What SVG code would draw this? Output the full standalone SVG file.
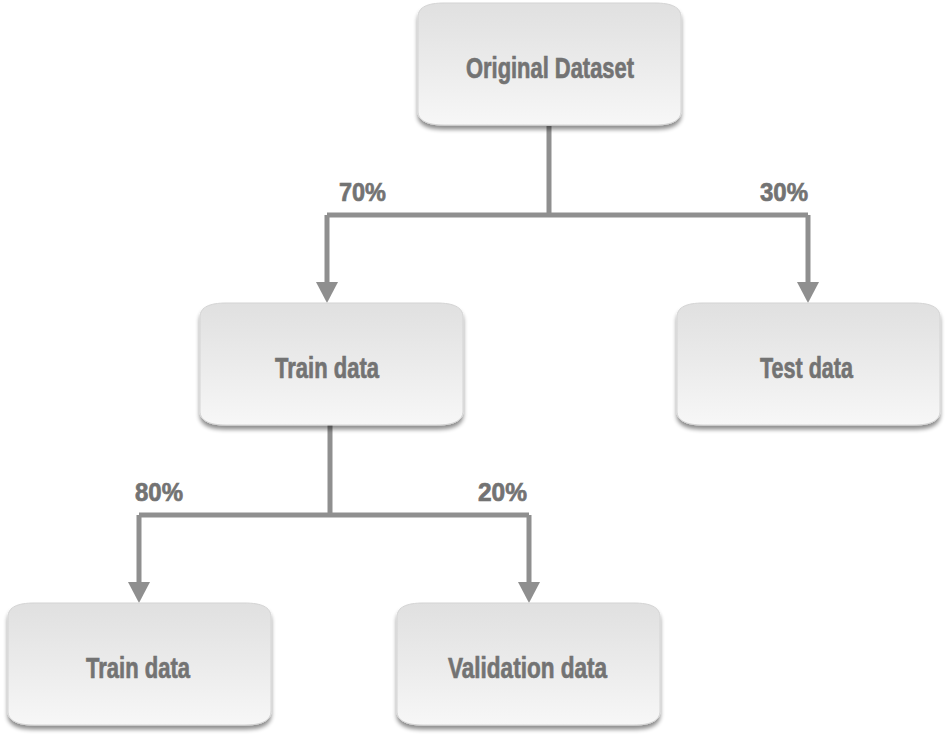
<svg xmlns="http://www.w3.org/2000/svg" xmlns:xlink="http://www.w3.org/1999/xlink" width="950" height="742" viewBox="0 0 950 742">
  <style>
    .lbl { font-family: "Liberation Sans Narrow", "Liberation Sans", Arial, sans-serif; font-weight: bold; fill: #737373; stroke: #737373; stroke-width: 0.7px; }
    .node { font-size: 30px; }
    .pct { font-size: 26px; }
    .wire { fill: none; stroke: #8f8f8f; stroke-width: 5; stroke-linecap: butt; stroke-linejoin: miter; }
    .box { fill: url(#boxGrad); stroke: #d4d4d4; stroke-width: 1; filter: url(#shadow); }
  </style>
  <defs>
    <linearGradient id="boxGrad" x1="0" y1="0" x2="0" y2="1">
      <stop offset="0" stop-color="#e0e0e0"/>
      <stop offset="0.5" stop-color="#ebebeb"/>
      <stop offset="1" stop-color="#f7f7f7"/>
    </linearGradient>
    <filter id="shadow" x="-10%" y="-10%" width="120%" height="130%">
      <feGaussianBlur in="SourceAlpha" stdDeviation="2"/>
      <feOffset dx="0" dy="4" result="b"/>
      <feComponentTransfer in="b" result="s">
        <feFuncA type="linear" slope="0.45"/>
      </feComponentTransfer>
      <feMerge>
        <feMergeNode in="s"/>
        <feMergeNode in="SourceGraphic"/>
      </feMerge>
    </filter>
    <path id="boxShape" d="M0,14 C0,4 10,0 26,0 L237,0 C253,0 263,4 263,14 L263,108 C263,118 253,122 237,122 L26,122 C10,122 0,118 0,108 Z"/>
    <marker id="arrow" markerUnits="userSpaceOnUse" markerWidth="21" markerHeight="22" refX="0" refY="11" orient="auto" viewBox="0 0 21 22">
      <polygon points="0,0 21,11 0,22" fill="#8f8f8f"/>
    </marker>
  </defs>

  <g id="connectors">
    <path class="wire" d="M549,126 V215"/>
    <path class="wire" d="M327,215 H808"/>
    <path class="wire" d="M327,215 V282" marker-end="url(#arrow)"/>
    <path class="wire" d="M808,215 V282" marker-end="url(#arrow)"/>
    <path class="wire" d="M330,425 V515"/>
    <path class="wire" d="M139,515 H529"/>
    <path class="wire" d="M139,515 V582" marker-end="url(#arrow)"/>
    <path class="wire" d="M529,515 V582" marker-end="url(#arrow)"/>
  </g>

  <g id="node-original">
    <use xlink:href="#boxShape" href="#boxShape" class="box" x="418" y="3"/>
    <text class="lbl node" x="466" y="78" textLength="168" lengthAdjust="spacingAndGlyphs">Original Dataset</text>
  </g>

  <g id="node-train1">
    <use xlink:href="#boxShape" href="#boxShape" class="box" x="200" y="303"/>
    <text class="lbl node" x="275" y="378" textLength="104" lengthAdjust="spacingAndGlyphs">Train data</text>
  </g>

  <g id="node-test">
    <use xlink:href="#boxShape" href="#boxShape" class="box" x="677" y="303"/>
    <text class="lbl node" x="760" y="378" textLength="93" lengthAdjust="spacingAndGlyphs">Test data</text>
  </g>

  <g id="node-train2">
    <use xlink:href="#boxShape" href="#boxShape" class="box" x="8" y="603"/>
    <text class="lbl node" x="86" y="678" textLength="104" lengthAdjust="spacingAndGlyphs">Train data</text>
  </g>

  <g id="node-validation">
    <use xlink:href="#boxShape" href="#boxShape" class="box" x="397" y="603"/>
    <text class="lbl node" x="448" y="678" textLength="159" lengthAdjust="spacingAndGlyphs">Validation data</text>
  </g>

  <g id="labels">
    <text class="lbl pct" x="339" y="201" textLength="47" lengthAdjust="spacingAndGlyphs">70%</text>
    <text class="lbl pct" x="760" y="201" textLength="48" lengthAdjust="spacingAndGlyphs">30%</text>
    <text class="lbl pct" x="135" y="501" textLength="48" lengthAdjust="spacingAndGlyphs">80%</text>
    <text class="lbl pct" x="478" y="501" textLength="49" lengthAdjust="spacingAndGlyphs">20%</text>
  </g>
</svg>
